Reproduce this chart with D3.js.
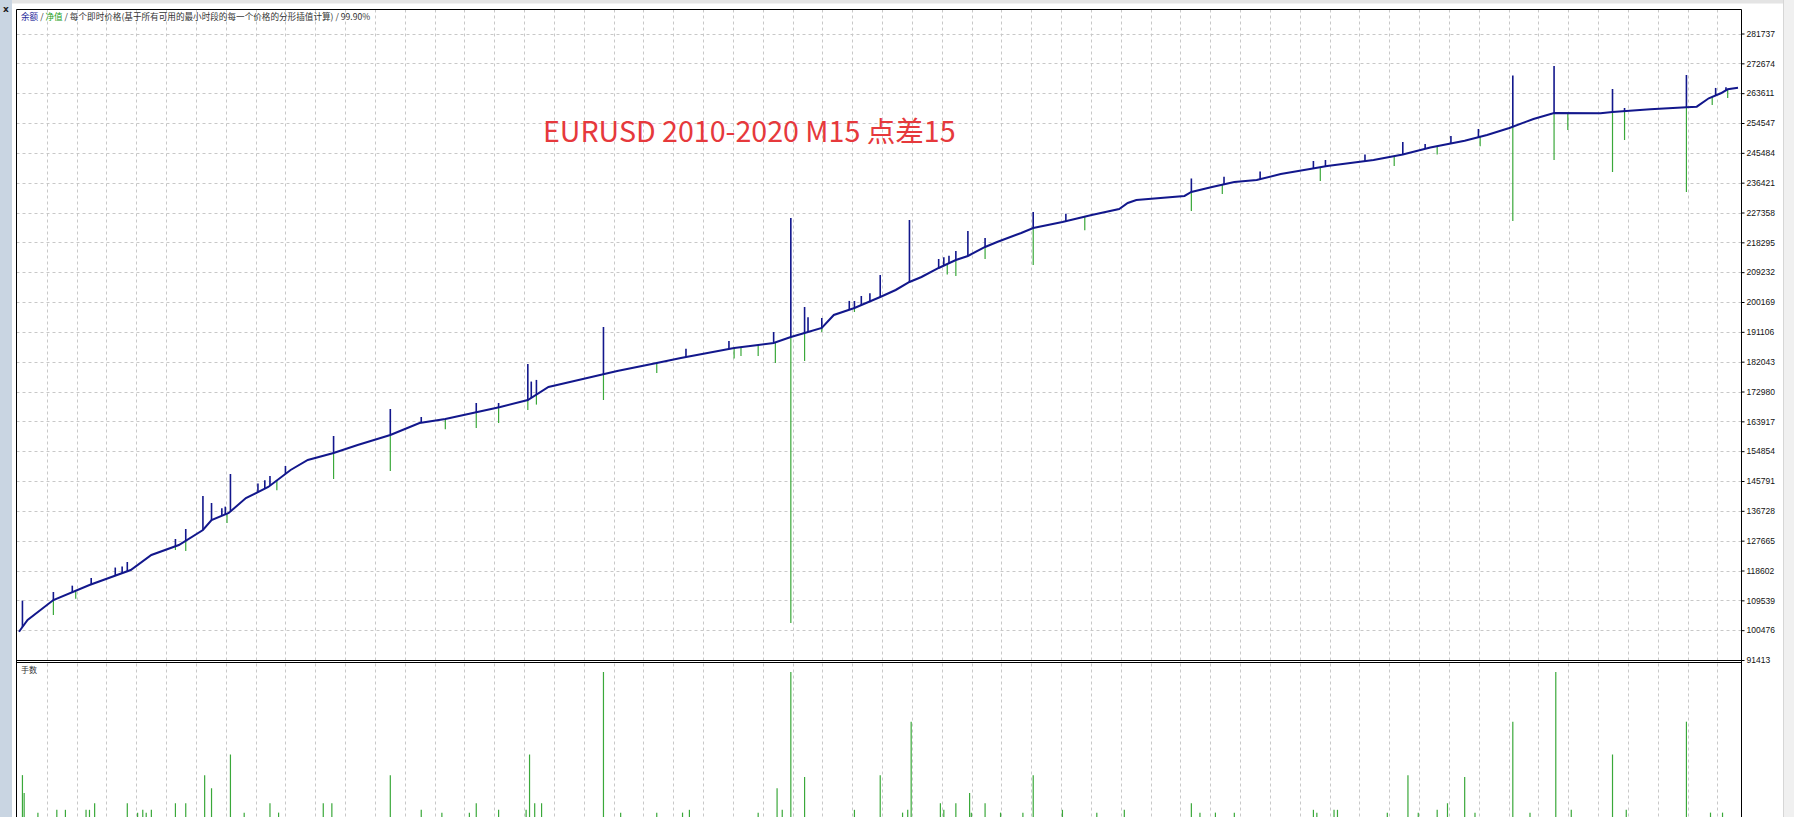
<!DOCTYPE html>
<html>
<head>
<meta charset="utf-8">
<script src="https://cdn.jsdelivr.net/npm/d3@7"></script>
<style>
  html, body { margin: 0; padding: 0; background: #ffffff; }
  svg { display: block; }
</style>
</head>
<body>
<svg id="chart" width="1794" height="817"></svg>
<script>
// ---------------- DATA ----------------
const headerParts = [
  { text: "余额", color: "#1f2a9a" },
  { text: " / ", color: "#333333" },
  { text: "净值", color: "#22a022" },
  { text: " / 每个即时价格(基于所有可用的最小时段的每一个价格的分形插值计算) / 99.90%", color: "#333333" }
];
const titleText = "EURUSD 2010-2020 M15 点差15";
const lotsLabel = "手数";

const yTickLabels = ["281737","272674","263611","254547","245484","236421","227358","218295","209232","200169","191106","182043","172980","163917","154854","145791","136728","127665","118602","109539","100476","91413"];

// balance line: trade number / balance
const balanceTrade = [0,2,5,20,41,65,77,93,107,112,122,132,145,158,168,183,197,216,233,248,264,280,296,308,323,338,348,371,385,416,430,439,449,457,467,474,486,501,510,518,525,535,545,552,562,569,583,590,607,624,640,645,650,678,682,694,707,720,734,751,761,788,805,821,841,854,867,881,893,920,927,949,970,976,983,990,994,1000];
const balanceValue = [100000,101440,103565,109641,114198,118755,123312,126350,130907,133945,136072,140629,143970,149135,152173,154300,156730,159768,163414,164629,166452,168274,170401,174350,176173,177996,179211,181642,183161,186199,187110,187718,189540,190756,192275,196224,198351,201692,203819,206249,207768,210503,212933,214148,216882,218401,221136,222655,224477,226604,228427,230250,231161,232376,233591,235110,236629,237237,239060,240579,241490,243313,244984,247080,249176,250908,253035,255769,257592,257500,257900,258716,259323,259506,262058,263576,264792,265278];

// upward balance spikes: trade number / peak value
const spikeUpTrade = [2,20,31,42,56,60,63,91,97,107,112,118,120,123,139,143,146,155,183,216,234,266,279,296,298,301,340,388,413,439,449,457,459,467,483,486,490,495,501,518,535,538,541,545,552,562,590,609,682,701,722,753,760,783,805,818,833,849,869,893,927,934,970,987,993];
const spikeUpValue = [109450,112071,114000,116325,119500,119800,121185,128173,131211,141236,139110,137500,138000,147920,145000,146000,147312,150350,159464,167667,165236,169490,169490,181338,176000,176500,192578,186000,188300,191059,225693,198654,195500,195313,200500,200477,201996,202800,208376,225085,213237,213800,214200,215667,221743,219617,227515,227000,237693,238200,239800,243009,243300,245000,248781,248174,250604,252731,268984,271870,264883,259111,269136,265200,265400];

// downward equity spikes: trade number / lowest equity
const spikeDownTrade = [20,33,91,97,121,150,183,216,248,266,279,296,301,340,371,416,420,430,440,449,457,467,486,540,545,562,590,620,682,700,757,800,825,850,869,893,901,927,934,970,985,994];
const spikeDownValue = [105084,110000,124831,124500,133000,143000,146401,148831,161500,161895,163414,167363,169000,170401,178604,183000,183768,183768,181642,102654,182249,191059,197135,208500,208072,213237,211414,222000,227819,233000,236933,241500,245000,247500,224781,243313,252427,239667,249389,233591,260000,262149];

// lots per trade
const lotTrade = [2,3,11,22,27,39,41,44,63,69,72,74,77,91,97,108,112,123,131,146,151,177,182,216,234,246,262,266,279,295,297,300,304,340,350,371,386,390,430,441,444,449,457,486,501,514,517,519,536,538,545,553,554,562,571,584,590,607,627,643,682,687,696,707,753,755,765,767,796,808,814,825,831,841,847,869,879,894,903,927,935,970,984,991];
const lotValue = [0.50,0.31,0.10,0.13,0.13,0.13,0.13,0.20,0.20,0.10,0.13,0.10,0.13,0.20,0.20,0.50,0.36,0.72,0.10,0.20,0.10,0.20,0.20,0.50,0.13,0.10,0.10,0.20,0.13,0.13,0.72,0.20,0.20,1.60,0.10,0.10,0.10,0.13,0.10,0.36,0.13,1.60,0.48,0.13,0.50,0.10,0.13,1.07,0.20,0.13,0.20,0.31,0.10,0.20,0.10,0.10,0.50,0.13,0.10,0.13,0.20,0.10,0.10,0.10,0.13,0.10,0.13,0.13,0.10,0.50,0.10,0.13,0.20,0.48,0.10,1.07,0.10,1.60,0.13,0.72,0.13,1.07,0.10,0.10];

// ---------------- LAYOUT ----------------
const W = 1794, H = 817;
const frameL = 16.5, frameR = 1741.5, frameT = 9.5;
const upperBottom = 660, lowerTop = 662.5;
const navy = "#12178c", green = "#3aa83a";

const svg = d3.select("#chart");

const yVals = yTickLabels.map(Number);
const y = d3.scaleLinear().domain([d3.min(yVals), d3.max(yVals)]).range([upperBottom, 33.5]);
const x = d3.scaleLinear().domain([0, 1000]).range([19, 1738]);
const lotY = d3.scaleLinear().domain([0, 1.6]).range([822, 672]);
const baseAt = d3.scaleLinear().domain(balanceTrade).range(balanceValue);

// background pieces
svg.append("rect").attr("x", 0).attr("y", 0).attr("width", W).attr("height", H).attr("fill", "#ffffff");
svg.append("rect").attr("x", 0).attr("y", 0).attr("width", W).attr("height", 3.5).attr("fill", "#e4e4e4");
svg.append("rect").attr("x", 0).attr("y", 0).attr("width", 12).attr("height", H).attr("fill", "#c9d5e2");
svg.append("rect").attr("x", 1784).attr("y", 0).attr("width", 10).attr("height", H).attr("fill", "#f0f0f0");
svg.append("line").attr("x1", 1783.5).attr("x2", 1783.5).attr("y1", 0).attr("y2", H).attr("stroke", "#d6d6d6");
svg.append("text").attr("x", 3).attr("y", 12).attr("font-family", "DejaVu Sans, sans-serif")
  .attr("font-size", 9).attr("font-weight", "bold").attr("fill", "#222").text("x");

// grid
const cell = y(yVals[1]) - y(yVals[0]);
const gridX = d3.range(1, 58).map(j => frameL + 0.4 + j * cell).filter(v => v < frameR - 2);
const grid = svg.append("g").attr("stroke", "#c8c8c8").attr("stroke-width", 1).attr("stroke-dasharray", "3,3");
grid.selectAll("line.v").data(gridX).join("line")
  .attr("x1", d => Math.round(d) + 0.5).attr("x2", d => Math.round(d) + 0.5)
  .attr("y1", frameT).attr("y2", H);
grid.selectAll("line.h").data(yVals.slice(0, -1)).join("line")
  .attr("x1", frameL).attr("x2", frameR)
  .attr("y1", d => Math.round(y(d)) + 0.5).attr("y2", d => Math.round(y(d)) + 0.5);

// equity down spikes
svg.append("g").attr("stroke", green).attr("stroke-width", 1.2)
  .selectAll("line").data(spikeDownTrade).join("line")
  .attr("x1", d => x(d)).attr("x2", d => x(d))
  .attr("y1", d => y(baseAt(d)))
  .attr("y2", (d, i) => y(spikeDownValue[i]));

// balance line
const pts = balanceTrade.map((t, i) => [t, balanceValue[i]]);
svg.append("path").datum(pts)
  .attr("fill", "none").attr("stroke", navy).attr("stroke-width", 2)
  .attr("d", d3.line().x(d => x(d[0])).y(d => y(d[1])));

// balance up spikes
svg.append("g").attr("stroke", navy).attr("stroke-width", 1.6)
  .selectAll("line").data(spikeUpTrade).join("line")
  .attr("x1", d => x(d)).attr("x2", d => x(d))
  .attr("y1", d => y(baseAt(d)))
  .attr("y2", (d, i) => y(spikeUpValue[i]));

// lots bars
svg.append("g").attr("stroke", green).attr("stroke-width", 1.2)
  .selectAll("line").data(lotTrade).join("line")
  .attr("x1", d => x(d)).attr("x2", d => x(d))
  .attr("y1", lotY(0))
  .attr("y2", (d, i) => lotY(lotValue[i]));

// frames
const fr = svg.append("g").attr("stroke", "#000").attr("stroke-width", 1).attr("fill", "none");
fr.append("line").attr("x1", frameL).attr("x2", frameL).attr("y1", frameT).attr("y2", H);
fr.append("line").attr("x1", frameR).attr("x2", frameR).attr("y1", frameT).attr("y2", H);
fr.append("line").attr("x1", frameL).attr("x2", frameR).attr("y1", frameT).attr("y2", frameT);
fr.append("line").attr("x1", frameL).attr("x2", frameR).attr("y1", upperBottom + 0.5).attr("y2", upperBottom + 0.5);
fr.append("line").attr("x1", frameL).attr("x2", frameR).attr("y1", lowerTop).attr("y2", lowerTop);

// y axis (right)
const axis = d3.axisRight(y).tickValues(yVals).tickFormat((d, i) => yTickLabels[i]).tickSize(3).tickPadding(2);
const ax = svg.append("g").attr("transform", `translate(${frameR},0)`).call(axis);
ax.select(".domain").remove();
ax.selectAll("line").attr("stroke", "#000");
ax.selectAll("text").attr("font-family", "Liberation Sans, Arial, sans-serif").attr("font-size", 8.5).attr("fill", "#111");

// header
const hdr = svg.append("text").attr("x", 21).attr("y", 20)
  .attr("font-family", "Noto Sans CJK SC, sans-serif").attr("font-size", 8.6);
headerParts.forEach(p => hdr.append("tspan").attr("fill", p.color).text(p.text));

// lots label
svg.append("text").attr("x", 21).attr("y", 673)
  .attr("font-family", "Noto Sans CJK SC, sans-serif").attr("font-size", 8).attr("fill", "#333").text(lotsLabel);

// title
svg.append("text").attr("x", 543).attr("y", 142)
  .attr("font-family", "Noto Sans CJK SC, sans-serif").attr("font-size", 28.6).attr("fill", "#e6393c").text(titleText);
</script>
</body>
</html>
